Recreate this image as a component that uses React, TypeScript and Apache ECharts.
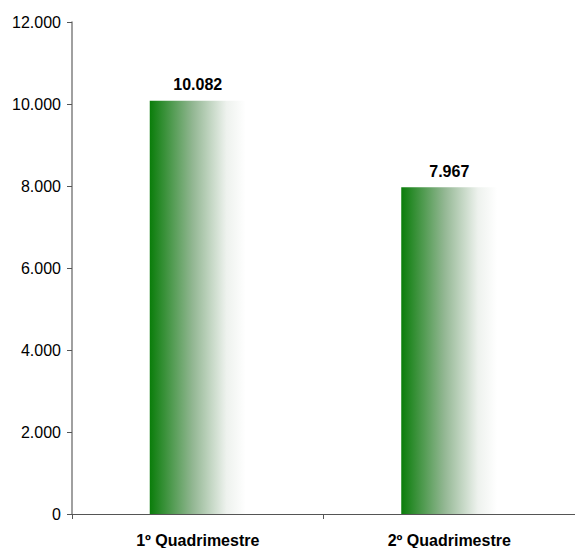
import React, { useEffect, useRef } from "react";
import * as echarts from "echarts";

const categories = ["1º Quadrimestre", "2º Quadrimestre"];
const values = [10082, 7967];
const yTicks = { min: 0, max: 12000, interval: 2000 };

const fmt = (v: number) => {
  const s = Math.round(v).toString();
  return s.replace(/\B(?=(\d{3})+(?!\d))/g, ".");
};

export default function App() {
  const ref = useRef<HTMLDivElement>(null);
  useEffect(() => {
    const chart = echarts.init(ref.current!, null, { renderer: "svg" });
    chart.setOption({
      animation: false,
      backgroundColor: "#ffffff",
      grid: { left: 72, top: 22, width: 512, height: 493, containLabel: false },
      xAxis: {
        type: "category",
        data: categories,
        axisLine: { lineStyle: { color: "#555555", width: 1 } },
        axisTick: { show: true, length: 5, lineStyle: { color: "#555555" } },
        axisLabel: {
          color: "#000000",
          fontFamily: "Liberation Sans, Arial, sans-serif",
          fontWeight: "bold",
          fontSize: 16,
          margin: 18,
        },
      },
      yAxis: {
        type: "value",
        min: yTicks.min,
        max: yTicks.max,
        interval: yTicks.interval,
        splitLine: { show: false },
        axisLine: { show: true, lineStyle: { color: "#808080", width: 1.5 } },
        axisTick: { show: true, length: 5, lineStyle: { color: "#555555" } },
        axisLabel: {
          color: "#000000",
          fontFamily: "Liberation Sans, Arial, sans-serif",
          fontSize: 16,
          margin: 11,
          formatter: (v: number) => fmt(v),
        },
      },
      series: [
        {
          type: "bar",
          data: values,
          barWidth: 96,
          itemStyle: {
            color: new echarts.graphic.LinearGradient(0, 0, 1, 0, [
              { offset: 0, color: "#0a7d0a" },
              { offset: 0.45, color: "#93b793" },
              { offset: 0.8, color: "#eef2ee" },
              { offset: 1, color: "#ffffff" },
            ]),
          },
          label: {
            show: true,
            position: "top",
            distance: 8,
            color: "#000000",
            fontFamily: "Liberation Sans, Arial, sans-serif",
            fontWeight: "bold",
            fontSize: 16,
            formatter: (p: any) => fmt(p.value),
          },
        },
      ],
    });
    return () => chart.dispose();
  }, []);
  return (
    <div
      ref={ref}
      style={{ position: "fixed", left: 0, top: 0, width: 575, height: 548 }}
    />
  );
}
